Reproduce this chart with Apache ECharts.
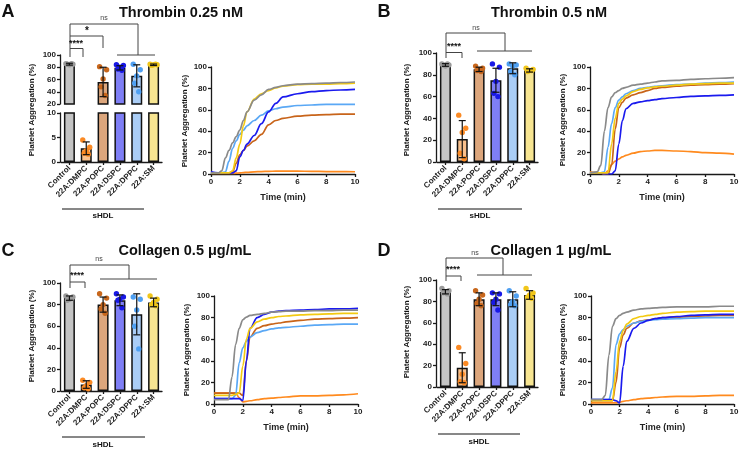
<!DOCTYPE html>
<html>
<head>
<meta charset="UTF-8">
<title>Platelet aggregation</title>
<script src="https://cdn.jsdelivr.net/npm/echarts@6/dist/echarts.min.js"></script>
<style>
  html, body { margin: 0; background: #fff; }
  #main { width: 740px; height: 450px; }
</style>
</head>
<body>
<div id="main"></div>
<script>
  var cats = ['Control', '22A:DMPC', '22A:POPC', '22A:DSPC', '22A:DPPC', '22A:SM'];
  var barColors = ['#c4c4c4', '#f9c08c', '#dca67c', '#7f7ff6', '#aacdf6', '#f7e591'];
  var dotColors = ['#9a9a9a', '#fb8a24', '#c8671c', '#1818e6', '#4fa0f2', '#f1c61a'];
  var lineColors = ['#8a8a8a', '#ff8a1e', '#c8641a', '#1a1aee', '#5aa8f5', '#f3ca12'];

  // bar panels: mean, SD, individual donors
  var meanA = [85, 2.8, 56, 79, 66, 84];
  var sdA = [1.5, 1.3, 24, 3.5, 18, 1.2];
  var ptsA = [[86, 85, 84, 85, 86], [4.5, 3, 2.3, 1.8, 1.6], [81, 76, 61, 48, 34], [84, 83, 80, 77, 75], [85, 76, 66, 54, 40], [85, 84, 84, 83, 85]];

  var meanB = [89, 21, 85, 75, 86, 84];
  var sdB = [1.2, 17, 2, 11, 5, 1.5];
  var ptsB = [[90, 89, 88, 89, 90], [43, 31, 27, 8, 3], [88, 86, 85, 84, 83], [90, 87, 74, 63, 60], [90, 89, 88, 83, 80], [86, 85, 84, 83, 84]];

  var meanC = [86, 6, 80, 84, 71, 82];
  var sdC = [2, 3.5, 7, 5, 19, 4];
  var ptsC = [[88, 87, 85, 84, 86], [10, 8, 5, 3, 2], [90, 86, 80, 76, 72], [90, 87, 85, 84, 77], [87, 85, 75, 60, 39], [88, 85, 82, 80, 79]];

  var meanD = [89, 18, 82, 82, 82, 86];
  var sdD = [2, 14, 6, 6, 7, 4];
  var ptsD = [[92, 90, 89, 88, 87], [37, 22, 12, 5, 4], [90, 86, 82, 78, 76], [88, 87, 82, 79, 72], [90, 85, 80, 77, 76], [92, 88, 86, 84, 83]];

  // aggregation traces (min)
  var time = [0, 0.5, 0.75, 1, 1.25, 1.5, 1.75, 2, 2.25, 2.5, 3, 3.5, 4, 4.5, 5, 6, 7, 8, 9, 10];

  var ctrlA = [1, 1, 3, 15, 22, 29, 35, 41, 50, 58, 69, 74, 79, 81, 82.5, 84, 84.5, 85, 85.5, 86];
  var dmpcA = [0.5, 0.5, 0.5, 0.5, 0.5, 0.5, 0.8, 1, 1.3, 1.6, 2, 2.3, 2.5, 2.6, 2.6, 2.6, 2.5, 2.3, 2.2, 2.1];
  var popcA = [1, 1, 1, 1, 1, 2, 10, 18, 22, 26, 31, 37, 46, 50, 52, 54, 55, 55.5, 56, 56];
  var dspcA = [2, 1, 1, 1, 1, 1, 3, 16, 22, 28, 36, 47, 58, 66, 72, 75, 77, 78, 78.5, 79];
  var dppcA = [1, 1, 1, 2, 12, 24, 31, 37, 41, 45, 50, 55, 59, 61, 62.5, 64, 64.5, 65, 65, 65];
  var smA = [1, 1, 1, 1, 1, 3, 15, 28, 45, 58, 70, 75, 78, 80.5, 82, 83.5, 84, 84, 84.5, 85];

  var ctrlB = [1, 2, 8, 40, 62, 72, 76, 78, 80, 81, 83, 84, 85, 86, 87, 87.5, 88.5, 89, 89.5, 90];
  var dmpcB = [2, 1, 1, 0, 3, 9, 12, 14, 16, 17.5, 19.5, 21, 21.5, 22, 22, 21.5, 21, 20, 19.5, 18.5];
  var popcB = [1, 1, 1, 0, 0, 8, 42, 62, 67, 71, 74, 76, 78, 80, 81, 82, 83, 83.5, 84, 84.5];
  var dspcB = [1, 1, 1, 0, 0, 0, 3, 28, 50, 61, 66, 67.5, 68.5, 69.5, 70.5, 71.5, 72.5, 73, 73.5, 74];
  var dppcB = [1, 1, 1, 2, 25, 47, 62, 69, 72, 75, 78, 80, 81, 82, 82.5, 83.5, 84, 85, 85.5, 86];
  var smB = [1, 1, 1, 1, 1, 28, 52, 66, 70, 73, 77, 79, 80.5, 81.5, 82, 83, 84, 84.5, 85, 85];

  var ctrlC = [4, 4, 4, 4, 25, 55, 70, 78, 80.5, 82, 83, 84, 85, 85.5, 86, 86, 86.5, 86.5, 87, 87];
  var dmpcC = [10, 10, 10, 10, 10, 10, 6, 2, 2.5, 3, 4, 5, 5.5, 6, 6.5, 7.5, 7.5, 8, 8.5, 9.5];
  var popcC = [10, 10, 10, 10, 10, 10, 10, 8, 40, 62, 70, 72.5, 74, 75, 76, 77.5, 78.5, 79, 79.5, 80];
  var dspcC = [5, 5, 5, 5, 5, 5, 5, 3, 40, 70, 80, 83, 85, 86, 86.5, 87, 87.5, 88, 88, 88.5];
  var dppcC = [5, 5, 5, 5, 5, 8, 38, 52, 58, 62, 66, 68, 69.5, 70.5, 71, 72, 73, 73.5, 74, 74];
  var smC = [8, 8, 8, 8, 8, 9, 10, 35, 60, 70, 76, 78.5, 80, 81, 81.5, 82.5, 83, 83.5, 84, 84];

  var ctrlD = [4, 4, 4, 8, 45, 72, 79, 82, 84, 85, 87, 88, 88.5, 89, 89.5, 90, 90, 90, 90.5, 90.5];
  var dmpcD = [1, 1, 1, 1, 1, 1, 1, 1.5, 2.5, 3, 4, 5, 5.5, 6, 6.5, 7, 7, 7.5, 8, 8];
  var popcD = [3, 3, 3, 3, 3, 3, 20, 52, 64, 70, 75, 77, 78, 79, 80, 80.5, 81, 81.5, 82, 82];
  var dspcD = [4, 4, 4, 4, 4, 4, 3, 1, 35, 58, 70, 75, 77.5, 79, 80, 81, 82, 82.5, 83, 83];
  var dppcD = [4, 4, 4, 4, 4, 15, 55, 65, 69, 72, 75, 76.5, 77.5, 78, 78.5, 79, 79.5, 80, 80, 80];
  var smD = [3, 3, 3, 3, 3, 3, 30, 58, 68, 74, 79, 81, 82, 83, 84, 85, 85.5, 86, 86, 86];

  var FONT = 'Liberation Sans, Arial, sans-serif';
  var INK = '#1a1a1a';

  var grid = [], xAxis = [], yAxis = [], series = [], graphic = [];

  function axisStyle(extra) {
    var a = {
      axisLine: { show: true, onZero: false, lineStyle: { color: INK, width: 1.3 } },
      axisTick: { show: true, length: 3, lineStyle: { color: INK, width: 1.3 } },
      axisLabel: { color: '#222', fontSize: 8, fontWeight: 'bold', fontFamily: FONT, margin: 4 },
      splitLine: { show: false }
    };
    for (var k in extra) a[k] = extra[k];
    return a;
  }

  function addGrid(box, xa, ya) {
    box.outerBoundsMode = 'none';
    grid.push(box);
    var gi = grid.length - 1;
    xa.gridIndex = gi; ya.gridIndex = gi;
    xAxis.push(xa); yAxis.push(ya);
    return gi;
  }

  var jit = [-3.5, 3.5, 0, -2, 2];

  function renderErr(params, api) {
    var c = api.value(0), m = api.value(1), s = api.value(2);
    var hi = api.coord([c, m + s]), lo = api.coord([c, m - s]);
    var x = hi[0], w = 3.5;
    var st = { stroke: '#111', lineWidth: 1.2 };
    return { type: 'group', children: [
      { type: 'line', shape: { x1: x, y1: hi[1], x2: x, y2: lo[1] }, style: st },
      { type: 'line', shape: { x1: x - w, y1: hi[1], x2: x + w, y2: hi[1] }, style: st },
      { type: 'line', shape: { x1: x - w, y1: lo[1], x2: x + w, y2: lo[1] }, style: st }
    ]};
  }

  function renderDot(params, api) {
    var c = api.value(0), p = api.coord([c, api.value(1)]);
    return { type: 'circle', shape: { cx: p[0] + jit[api.value(2)], cy: p[1], r: 2.7 },
             style: { fill: dotColors[c] } };
  }

  // one bar block; yMin/yMax decide which error bars and dots belong to this grid
  function barBlock(box, yMin, yMax, step, showX, means, sds, pts) {
    var gi = addGrid(box,
      axisStyle({ type: 'category', data: cats, show: showX,
        axisTick: { show: true, alignWithLabel: true, length: 3, lineStyle: { color: INK, width: 1.3 } },
        axisLabel: { rotate: 45, interval: 0, color: '#222', fontSize: 8, fontWeight: 'bold', fontFamily: FONT, margin: 5 } }),
      axisStyle({ type: 'value', min: yMin, max: yMax, interval: step, offset: 1 }));
    series.push({
      type: 'bar', xAxisIndex: gi, yAxisIndex: gi, barWidth: 11, clip: true, animation: false,
      itemStyle: { borderColor: '#111', borderWidth: 1.5 },
      data: means.map(function (v, i) { return { value: v, itemStyle: { color: barColors[i] } }; })
    });
    var dots = [];
    pts.forEach(function (g, i) {
      g.forEach(function (v, k) { if (v >= yMin && v <= yMax) dots.push([i, v, k]); });
    });
    series.push({ type: 'custom', xAxisIndex: gi, yAxisIndex: gi, renderItem: renderDot, data: dots, z: 3, animation: false });
    var errs = [];
    means.forEach(function (m, i) { if (m >= yMin && m <= yMax) errs.push([i, m, sds[i]]); });
    series.push({ type: 'custom', xAxisIndex: gi, yAxisIndex: gi, renderItem: renderErr, data: errs, z: 4, animation: false });
  }

  function linePanel(box, traces) {
    var gi = addGrid(box,
      axisStyle({ type: 'value', min: 0, max: 10, interval: 2, name: 'Time (min)', nameLocation: 'middle', nameGap: 19,
        nameTextStyle: { fontSize: 9, fontWeight: 'bold', color: '#222', fontFamily: FONT } }),
      axisStyle({ type: 'value', min: 0, max: 100, interval: 20 }));
    var order = [1, 2, 4, 3, 5, 0];
    order.forEach(function (i) {
      series.push({
        type: 'line', xAxisIndex: gi, yAxisIndex: gi, showSymbol: false, animation: false,
        smooth: 0.35, smoothMonotone: 'x',
        lineStyle: { width: 1.7, color: lineColors[i] },
        data: time.map(function (t, j) { return [t, traces[i][j]]; })
      });
    });
  }

  // panel A (broken axis)
  barBlock({ left: 61, top: 55, width: 101, height: 49 }, 20, 100, 20, false, meanA, sdA, ptsA);
  barBlock({ left: 61, top: 113, width: 101, height: 49 }, 0, 10, 5, true, meanA, sdA, ptsA);
  linePanel({ left: 211, top: 67, width: 144, height: 107 }, [ctrlA, dmpcA, popcA, dspcA, dppcA, smA]);
  // panel B
  barBlock({ left: 437, top: 53, width: 101, height: 109 }, 0, 100, 20, true, meanB, sdB, ptsB);
  linePanel({ left: 590, top: 67, width: 144, height: 107 }, [ctrlB, dmpcB, popcB, dspcB, dppcB, smB]);
  // panel C
  barBlock({ left: 61, top: 283, width: 101, height: 108 }, 0, 100, 20, true, meanC, sdC, ptsC);
  linePanel({ left: 214, top: 296, width: 144, height: 108 }, [ctrlC, dmpcC, popcC, dspcC, dppcC, smC]);
  // panel D
  barBlock({ left: 437, top: 280, width: 101, height: 107 }, 0, 100, 20, true, meanD, sdD, ptsD);
  linePanel({ left: 591, top: 296, width: 143, height: 108 }, [ctrlD, dmpcD, popcD, dspcD, dppcD, smD]);

  function txt(x, y, s, size, weight, rot, color) {
    return { type: 'text', x: x, y: y, rotation: rot || 0, silent: true,
      style: { text: s, fontSize: size, fontWeight: weight, fontFamily: FONT, fill: color || '#111',
               align: 'center', verticalAlign: 'middle' } };
  }
  function seg(x1, y1, x2, y2, c) {
    return { type: 'line', silent: true, shape: { x1: x1, y1: y1, x2: x2, y2: y2 },
             style: { stroke: c || '#444', lineWidth: 1 } };
  }

  var R = Math.PI / 2;
  graphic.push(
    txt(8, 12, 'A', 18, 'bold'), txt(384, 12, 'B', 18, 'bold'),
    txt(8, 251, 'C', 18, 'bold'), txt(384, 251, 'D', 18, 'bold'),
    txt(181, 13, 'Thrombin 0.25 nM', 14.5, 'bold'), txt(549, 13, 'Thrombin 0.5 nM', 14.5, 'bold'),
    txt(185, 251, 'Collagen 0.5 μg/mL', 14.5, 'bold'), txt(551, 251, 'Collagen 1 μg/mL', 14.5, 'bold'),
    txt(32, 110, 'Platelet Aggregation (%)', 8, 'bold', R),
    txt(185, 121, 'Platelet Aggregation (%)', 8, 'bold', R),
    txt(407, 110, 'Platelet Aggregation (%)', 8, 'bold', R),
    txt(563, 120, 'Platelet Aggregation (%)', 8, 'bold', R),
    txt(32, 336, 'Platelet Aggregation (%)', 8, 'bold', R),
    txt(187, 350, 'Platelet Aggregation (%)', 8, 'bold', R),
    txt(407, 332, 'Platelet Aggregation (%)', 8, 'bold', R),
    txt(563, 350, 'Platelet Aggregation (%)', 8, 'bold', R),
    // sHDL grouping
    seg(62, 209, 144, 209, '#111'), txt(103, 216, 'sHDL', 8, 'bold'),
    seg(438, 209, 522, 209, '#111'), txt(480, 216, 'sHDL', 8, 'bold'),
    seg(62, 437, 145, 437, '#111'), txt(103, 445, 'sHDL', 8, 'bold'),
    seg(438, 434, 520, 434, '#111'), txt(479, 442, 'sHDL', 8, 'bold'),
    // A brackets
    seg(70, 24, 138, 24), seg(70, 24, 70, 57), seg(138, 24, 138, 55), seg(117, 55, 155, 55),
    seg(70, 36, 103, 36), seg(103, 36, 103, 48),
    seg(70, 48.5, 83, 48.5), seg(83, 48.5, 83, 57),
    txt(104, 18, 'ns', 7, 'normal', 0, '#444'), txt(87, 31, '*', 10, 'bold'), txt(76, 44, '****', 9, 'bold'),
    // B brackets
    seg(446, 33, 505, 33), seg(446, 33, 446, 58), seg(505, 33, 505, 51), seg(477, 51, 532, 51),
    seg(446, 52.5, 462, 52.5), seg(462, 52.5, 462, 58),
    txt(476, 28, 'ns', 7, 'normal', 0, '#444'), txt(454, 47, '****', 9, 'bold'),
    // C brackets
    seg(70, 265, 129, 265), seg(70, 265, 70, 288), seg(129, 265, 129, 279), seg(100, 279, 157, 279),
    seg(70, 282, 85, 282), seg(85, 282, 85, 288),
    txt(99, 259, 'ns', 7, 'normal', 0, '#444'), txt(77, 276, '****', 9, 'bold'),
    // D brackets
    seg(446, 258, 503, 258), seg(446, 258, 446, 281), seg(503, 258, 503, 275), seg(477, 275, 532, 275),
    seg(446, 276, 461, 276), seg(461, 276, 461, 281),
    txt(475, 253, 'ns', 7, 'normal', 0, '#444'), txt(453, 270, '****', 9, 'bold')
  );

  var chart = echarts.init(document.getElementById('main'));
  chart.setOption({
    animation: false,
    backgroundColor: '#fff',
    textStyle: { fontFamily: FONT },
    grid: grid,
    xAxis: xAxis,
    yAxis: yAxis,
    series: series,
    graphic: graphic
  });
</script>
</body>
</html>
